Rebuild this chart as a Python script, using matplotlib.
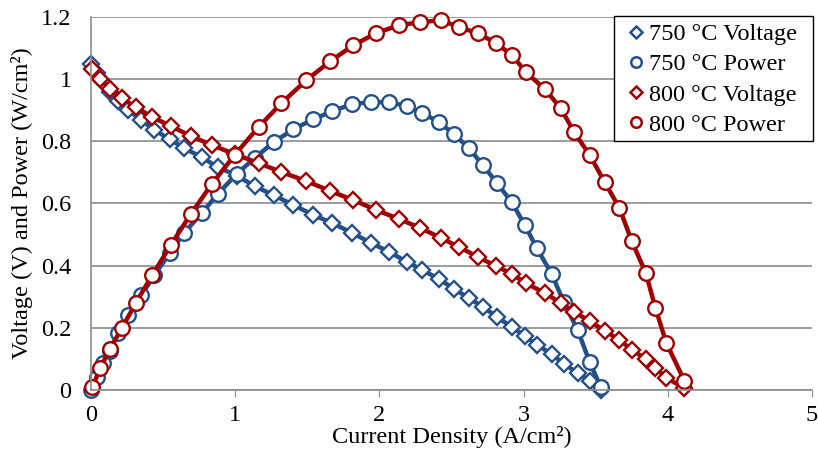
import matplotlib
matplotlib.use("Agg")
import matplotlib.pyplot as plt
from matplotlib.lines import Line2D
from matplotlib.patches import Rectangle

# current density (A/cm2) for each temperature
x_750 = [0.0, 0.04, 0.083, 0.131, 0.19, 0.26, 0.35, 0.44, 0.546, 0.645, 0.768, 0.878,
         1.01, 1.134, 1.266, 1.404, 1.542, 1.674, 1.812, 1.943, 2.068, 2.192, 2.296,
         2.414, 2.517, 2.621, 2.718, 2.815, 2.918, 3.008, 3.091, 3.195, 3.278, 3.375,
         3.458, 3.534]
v_750 = [1.05, 1.02, 0.99, 0.96, 0.93, 0.90, 0.868, 0.836, 0.807, 0.778, 0.749, 0.717,
         0.690, 0.656, 0.627, 0.595, 0.563, 0.537, 0.505, 0.473, 0.444, 0.412, 0.386,
         0.357, 0.325, 0.296, 0.267, 0.235, 0.203, 0.174, 0.145, 0.116, 0.084, 0.055,
         0.029, 0.0]
p_750 = [0.0, 0.042, 0.087, 0.127, 0.183, 0.241, 0.305, 0.370, 0.440, 0.505, 0.569, 0.630,
         0.695, 0.746, 0.797, 0.839, 0.871, 0.897, 0.920, 0.926, 0.926, 0.913, 0.891,
         0.862, 0.823, 0.778, 0.723, 0.666, 0.604, 0.531, 0.457, 0.373, 0.283, 0.193,
         0.090, 0.010]

x_800 = [0.01, 0.065, 0.131, 0.214, 0.311, 0.425, 0.553, 0.692, 0.837, 0.996, 1.162,
         1.321, 1.494, 1.660, 1.819, 1.978, 2.137, 2.285, 2.427, 2.552, 2.683, 2.808,
         2.920, 3.015, 3.147, 3.257, 3.350, 3.458, 3.562, 3.665, 3.750, 3.848, 3.914,
         3.990, 4.115]
v_800 = [1.032, 1.000, 0.968, 0.939, 0.910, 0.878, 0.849, 0.817, 0.788, 0.759, 0.730,
         0.701, 0.672, 0.640, 0.611, 0.579, 0.550, 0.521, 0.489, 0.460, 0.428, 0.399,
         0.373, 0.344, 0.312, 0.280, 0.251, 0.222, 0.190, 0.161, 0.129, 0.100, 0.071,
         0.039, 0.006]
p_800 = [0.010, 0.071, 0.132, 0.199, 0.280, 0.370, 0.466, 0.566, 0.662, 0.756, 0.846,
         0.923, 0.997, 1.058, 1.109, 1.148, 1.174, 1.183, 1.190, 1.167, 1.148, 1.116,
         1.077, 1.023, 0.968, 0.907, 0.830, 0.756, 0.669, 0.585, 0.479, 0.376, 0.264,
         0.151, 0.030]

blue = "#24508A"
red = "#A00000"

plt.rcParams["font.family"] = ["Liberation Serif", "DejaVu Serif"]
plt.rcParams["font.size"] = 17.5

W, H = 818, 459
fig = plt.figure(figsize=(W / 100, H / 100), dpi=100)
ax = fig.add_axes([91 / W, 1 - 390 / H, (812 - 91) / W, (390 - 17) / H])

series = [
    (x_750, v_750, blue, "D", 8, "750 °C Voltage"),
    (x_750, p_750, blue, "o", 10.5, "750 °C Power"),
    (x_800, v_800, red, "D", 8, "800 °C Voltage"),
    (x_800, p_800, red, "o", 10.5, "800 °C Power"),
]
for xs, ys, col, mk, ms, lab in series:
    ax.plot(xs, ys, color=col, lw=3.2, marker=mk, ms=ms, mfc="white",
            mec=col, mew=1.7, label=lab, clip_on=False)

ax.set_xlim(0, 5)
ax.set_ylim(0, 1.2)
ax.set_xticks(range(6))
ax.set_yticks([0, 0.2, 0.4, 0.6, 0.8, 1.0, 1.2])
ax.set_yticklabels(["0", "0.2", "0.4", "0.6", "0.8", "1", "1.2"])
ax.yaxis.grid(True, color="#8c8c8c", lw=1.2)
ax.set_axisbelow(True)
for s in ["top", "right"]:
    ax.spines[s].set_visible(False)
for s in ["left", "bottom"]:
    ax.spines[s].set_color("#8c8c8c")
    ax.spines[s].set_linewidth(1.2)
ax.tick_params(axis="x", direction="out", length=5, color="#8c8c8c", pad=6)
ax.tick_params(axis="y", length=0, pad=14)

ax.set_xlabel("Current Density (A/cm²)", labelpad=0)
ax.set_ylabel("Voltage (V) and Power (W/cm²)", labelpad=6)

# legend: markers only, box drawn separately
handles, labels = ax.get_legend_handles_labels()
leg_handles = [Line2D([], [], ls="none", marker=h.get_marker(), ms=h.get_markersize() * 0.72,
                      mfc="white", mec=h.get_color(), mew=1.8) for h in handles]
fig.patches.append(Rectangle((614 / W, 1 - 141 / H), (813 - 614) / W, (141 - 16) / H,
                             transform=fig.transFigure, facecolor="white",
                             edgecolor="black", lw=1.0, zorder=5))
leg = fig.legend(leg_handles, labels, loc="upper left",
                 bbox_to_anchor=(629 / W, 1 - 23 / H), frameon=False,
                 handlelength=0.6, handletextpad=0.22, labelspacing=0.34,
                 borderpad=0, borderaxespad=0, fontsize=17.5)
leg.set_zorder(6)

fig.savefig("out.png", dpi=100)
